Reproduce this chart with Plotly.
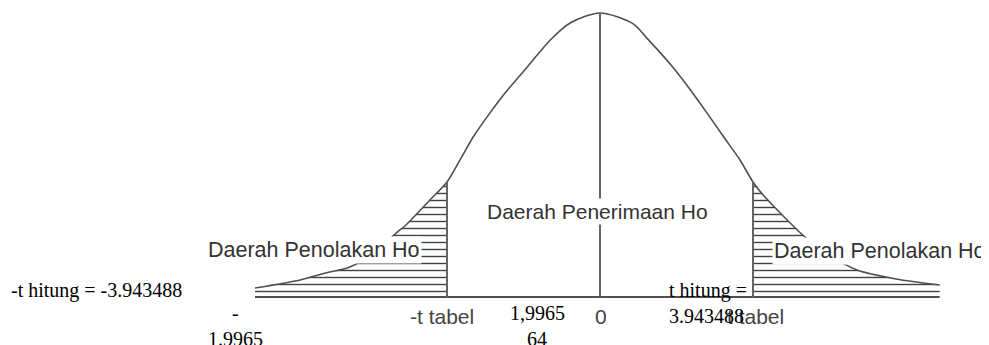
import plotly.graph_objects as go

# ---- data ----
curve_t = [-4.51, -3.92, -3.59, -3.27, -2.94, -2.65, -2.55, -2.22, -2.00, -1.83,
           -1.66, -1.44, -1.22, -0.95, -0.65, -0.39, 0.00, 0.43, 0.61,
           0.95, 1.18, 1.40, 1.62, 1.83, 2.00, 2.13, 2.68, 3.00, 3.36, 3.87, 4.44]
curve_density = [0.0127, 0.0240, 0.0338, 0.0423, 0.0634, 0.0915, 0.100, 0.137, 0.162, 0.193,
                 0.225, 0.259, 0.290, 0.324, 0.362, 0.386, 0.400, 0.385, 0.365,
                 0.324, 0.292, 0.259, 0.225, 0.193, 0.162, 0.144, 0.0845, 0.059, 0.038, 0.0254, 0.0169]

t_tabel_pos = [-2.00, 0.00, 2.00]          # drawn positions of -t tabel, 0, t tabel
t_tabel = "1,9965"
t_tabel_tail = "64"
t_hitung = "3.943488"
label_accept = "Daerah Penerimaan Ho"
label_reject = "Daerah Penolakan Ho"

# ---- geometry helpers (page pixel -> data); figure sits 8px in from page edge ----
PAGE_W, PAGE_H, OFF = 989, 345, 8
W, H = PAGE_W - OFF, PAGE_H - OFF
X0PX, XSCALE = 600.0, 76.5
Y0PX, YSCALE = 297.0, 710.0
def px(x):
    return (x - X0PX) / XSCALE
def py(y):
    return (Y0PX - y) / YSCALE

SANS = "Liberation Sans, Arial, sans-serif"
SERIF = "Liberation Serif, Times New Roman, serif"
LINE = "#505050"
HATCH = "#404040"

fig = go.Figure()

# hatched rejection tails
def tail(lo, hi):
    xs = [t for t in curve_t if lo <= t <= hi]
    ys = [d for t, d in zip(curve_t, curve_density) if lo <= t <= hi]
    return xs, ys

lx, ly = tail(min(curve_t), t_tabel_pos[0])
rx, ry = tail(t_tabel_pos[2], max(curve_t))
for xs, ys in ((lx, ly), (rx, ry)):
    fig.add_trace(go.Scatter(
        x=xs, y=ys, mode="lines", line=dict(width=0, shape="spline", smoothing=0.8),
        fill="tozeroy", fillcolor="rgba(0,0,0,0)",
        fillpattern=dict(shape="-", size=7, solidity=0.2, fgcolor=HATCH,
                         bgcolor="rgba(0,0,0,0)", fillmode="replace"),
        hoverinfo="skip"))

# bell curve
fig.add_trace(go.Scatter(x=curve_t, y=curve_density, mode="lines",
                         line=dict(color=LINE, width=1.6, shape="spline", smoothing=0.8),
                         hoverinfo="skip"))

# baseline
fig.add_trace(go.Scatter(x=[min(curve_t), max(curve_t)], y=[0, 0], mode="lines",
                         line=dict(color=LINE, width=2), hoverinfo="skip"))

# vertical lines at -t tabel, 0, t tabel
for t in t_tabel_pos:
    d = curve_density[curve_t.index(t)]
    fig.add_trace(go.Scatter(x=[t, t], y=[0, d], mode="lines",
                             line=dict(color="#666666", width=2), hoverinfo="skip"))

def ann(text, x, y, font, size, color, xanchor="center", bg=None):
    fig.add_annotation(text=text, x=px(x), y=py(y), xref="x", yref="y",
                       showarrow=False, xanchor=xanchor, yanchor="middle",
                       font=dict(family=font, size=size, color=color),
                       bgcolor=bg if bg else "rgba(0,0,0,0)", borderpad=1)

ann(label_accept, 597, 211, SANS, 21, "#333", bg="white")
ann(label_reject, 206, 250, SANS, 21.5, "#333", xanchor="left", bg="white")
ann(label_reject, 772, 251, SANS, 21.5, "#333", xanchor="left", bg="white")

ann("-t tabel", 442, 316, SANS, 21, "#444")
ann("0", 601, 316, SANS, 21, "#444")
ann("t tabel", 755, 316, SANS, 21, "#444")

ann("-t hitung = -" + t_hitung, 9, 290, SERIF, 20, "black", xanchor="left")
ann("-", 235, 313, SERIF, 20, "black")
ann(t_tabel.replace(",", "."), 235, 339, SERIF, 20, "black")
ann(t_tabel, 537, 313, SERIF, 20, "black")
ann(t_tabel_tail, 537, 339, SERIF, 20, "black")
ann("t hitung =", 667, 290, SERIF, 20, "black", xanchor="left")
ann(t_hitung, 667, 316, SERIF, 20, "black", xanchor="left")

fig.update_layout(
    width=W, height=H, margin=dict(l=0, r=0, t=0, b=0),
    paper_bgcolor="white", plot_bgcolor="white", showlegend=False,
    xaxis=dict(range=[px(OFF), px(PAGE_W)], visible=False, fixedrange=True),
    yaxis=dict(range=[py(PAGE_H), py(OFF)], visible=False, fixedrange=True),
)
fig.write_html("out.html")
